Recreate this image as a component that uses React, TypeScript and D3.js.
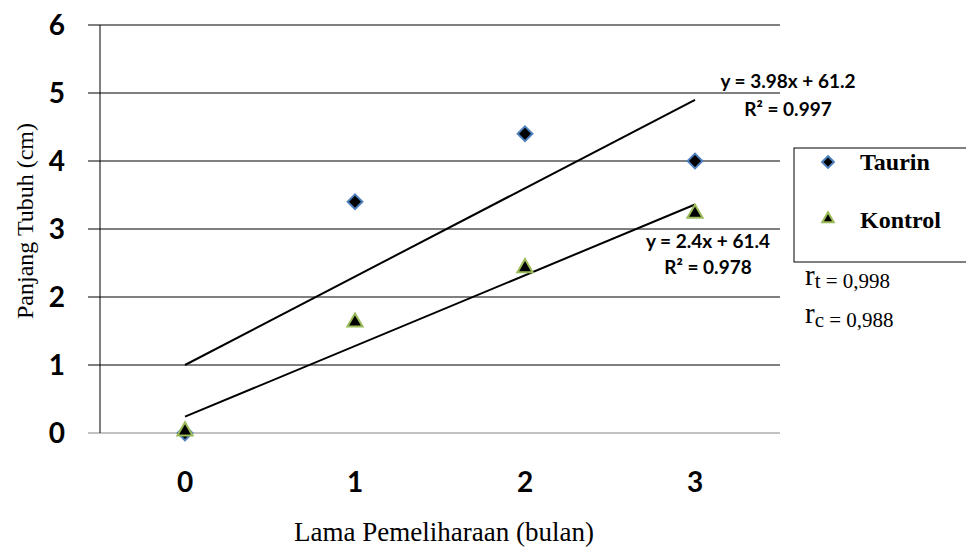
import React from 'react';
import * as d3 from 'd3';

const months = [0, 1, 2, 3];
const taurin = [0, 3.4, 4.4, 4.0];
const kontrol = [0, 1.6, 2.4, 3.2];
const yTicks = [0, 1, 2, 3, 4, 5, 6];

const W = 966;
const H = 547;
const left = 100;
const right = 780;
const top = 25;
const bottom = 433;

// least squares line, same as the spreadsheet trendline
function fit(ys: number[]) {
  const mx = d3.mean(months) as number;
  const my = d3.mean(ys) as number;
  const sxy = d3.sum(months, (x, i) => (x - mx) * (ys[i] - my));
  const sxx = d3.sum(months, x => (x - mx) ** 2);
  const b = sxy / sxx;
  return { a: my - b * mx, b };
}

const App = () => {
  const x = d3.scaleBand<number>().domain(months).range([left, right]);
  const cx = (d: number) => (x(d) as number) + x.bandwidth() / 2;
  const y = d3.scaleLinear().domain([0, 6]).range([bottom, top]);

  const diamond = d3.symbol().type(d3.symbolDiamond2).size(140)() as string;
  const triangle = d3.symbol().type(d3.symbolTriangle2).size(165)() as string;
  const legDiamond = d3.symbol().type(d3.symbolDiamond2).size(90)() as string;
  const legTriangle = d3.symbol().type(d3.symbolTriangle2).size(95)() as string;

  const trends = [fit(taurin), fit(kontrol)].map(f =>
    d3.line<number>().x(d => cx(d)).y(d => y(f.a + f.b * d))([0, 3])
  );

  const calibri = 'Lato, "Noto Sans", sans-serif';
  const times = '"Liberation Serif", "DejaVu Serif", serif';

  return (
    <svg width={W} height={H} style={{ position: 'absolute', left: 0, top: 0, background: '#fff' }}>
      {yTicks.map(t => (
        <g key={t}>
          <line x1={88} x2={right} y1={y(t)} y2={y(t)} stroke={t === 0 ? '#868686' : '#000'} strokeWidth={1} />
          <text x={65} y={y(t)} dy="0.36em" textAnchor="end" fontFamily={calibri} fontWeight="bold" fontSize={28}>
            {t}
          </text>
        </g>
      ))}
      <line x1={left} x2={left} y1={top} y2={bottom} stroke="#000" />
      {months.map(m => (
        <text key={m} x={cx(m)} y={492} textAnchor="middle" fontFamily={calibri} fontWeight="bold" fontSize={28}>
          {m}
        </text>
      ))}

      {trends.map((d, i) => (
        <path key={i} d={d as string} fill="none" stroke="#000" strokeWidth={2} />
      ))}

      {months.map((m, i) => (
        <path key={'t' + m} d={diamond} transform={`translate(${cx(m)},${y(taurin[i])})`} fill="#000" stroke="#4f81bd" strokeWidth={2} />
      ))}
      {months.map((m, i) => (
        <path key={'k' + m} d={triangle} transform={`translate(${cx(m)},${y(kontrol[i]) - 2})`} fill="#000" stroke="#9bbb59" strokeWidth={2} />
      ))}

      <g fontFamily={calibri} fontWeight="bold" fontSize={19} textAnchor="middle">
        <text x={788} y={88}>y = 3.98x + 61.2</text>
        <text x={788} y={116}>R² = 0.997</text>
        <text x={708} y={248}>y = 2.4x + 61.4</text>
        <text x={708} y={274}>R² = 0.978</text>
      </g>

      <rect x={794} y={148} width={200} height={114} fill="#fff" stroke="#000" strokeWidth={1} />
      <path d={legDiamond} transform="translate(828,162)" fill="#000" stroke="#4f81bd" strokeWidth={2} />
      <path d={legTriangle} transform="translate(828,219)" fill="#000" stroke="#9bbb59" strokeWidth={2} />
      <g fontFamily={times} fontWeight="bold" fontSize={24}>
        <text x={860} y={170}>Taurin</text>
        <text x={860} y={228}>Kontrol</text>
      </g>

      <g fontFamily={times} fill="#000">
        <text x={805} y={285} fontSize={29}>r<tspan fontSize={21} dy={3}>t = 0,998</tspan></text>
        <text x={805} y={323} fontSize={29}>r<tspan fontSize={21} dy={4}>c = 0,988</tspan></text>
      </g>

      <text transform="translate(33,221) rotate(-90)" textAnchor="middle" fontFamily={times} fontSize={24}>
        Panjang Tubuh (cm)
      </text>
      <text x={444} y={541} textAnchor="middle" fontFamily={times} fontSize={27}>
        Lama Pemeliharaan (bulan)
      </text>
    </svg>
  );
};

export default App;
